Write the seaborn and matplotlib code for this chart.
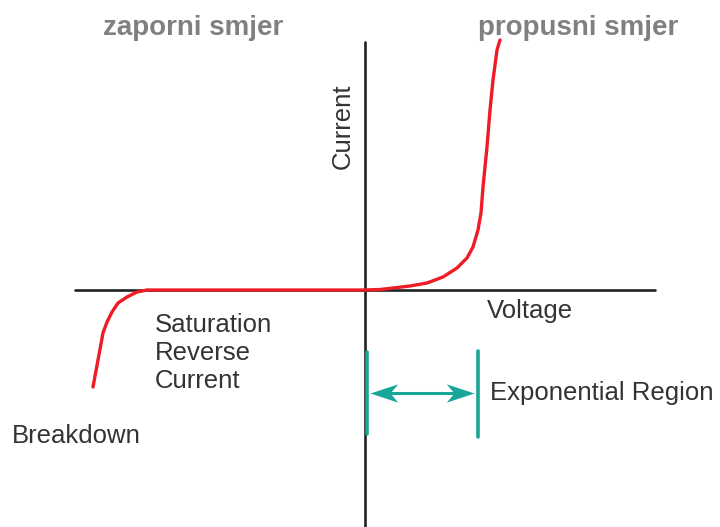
import matplotlib
matplotlib.use("Agg")
import matplotlib.pyplot as plt
import seaborn as sns
import pandas as pd
from matplotlib.path import Path

sns.set_theme(style="white")
plt.rcParams['font.family'] = ['Liberation Sans', 'DejaVu Sans']

# Diode I-V curve (origin at axis crossing, pixel-like units)
voltage = [-272, -267, -262, -258, -253, -247, -238, -228, -218,
           0, 15, 28, 45, 62, 78, 92, 102, 108, 113, 116, 118, 122, 125, 128, 132, 135]
current = [-97, -70, -43, -32, -22, -13, -7, -2, 0,
           0, 0.5, 2, 4, 7, 13, 22, 32, 43, 60, 77, 103, 143, 180, 210, 240, 250]

# Exponential region bounds (voltage)
exp_region = [0, 113]

df = pd.DataFrame({"Voltage": voltage, "Current": current})

fig = plt.figure(figsize=(7.2, 5.27), dpi=100)
ax = fig.add_axes([0, 0, 1, 1])
ax.set_xlim(-365, 355)
ax.set_ylim(-237, 290)
ax.axis("off")

axis_col = "#222222"
ax.plot([-290, 290], [0, 0], color=axis_col, lw=1.9, zorder=1)
ax.plot([0, 0], [-240, 248], color=axis_col, lw=1.9, zorder=1)

sns.lineplot(data=df, x="Voltage", y="Current", sort=False, ax=ax,
             color="#ee1c25", lw=2.4, zorder=3, estimator=None)
ax.lines[-1].set_solid_joinstyle("round")
ax.lines[-1].set_solid_capstyle("round")

teal = "#17a697"
ax.plot([exp_region[0] + 2, exp_region[0] + 2], [-62, -144], color=teal, lw=2.6, solid_capstyle="round", zorder=4)
ax.plot([exp_region[1], exp_region[1]], [-61, -147], color=teal, lw=2.6, solid_capstyle="round", zorder=4)

# arrow shaft + concave heads
ay = -103
x0, x1 = exp_region[0] + 5, exp_region[1] - 4
ax.plot([x0 + 10, x1 - 10], [ay, ay], color=teal, lw=2.2, zorder=4)
head_r = Path([(0, 0), (-1, 0.33), (-0.72, 0), (-1, -0.33), (0, 0)],
              [Path.MOVETO, Path.LINETO, Path.LINETO, Path.LINETO, Path.CLOSEPOLY])
head_l = Path([(0, 0), (1, 0.33), (0.72, 0), (1, -0.33), (0, 0)],
              [Path.MOVETO, Path.LINETO, Path.LINETO, Path.LINETO, Path.CLOSEPOLY])
ax.plot([x1], [ay], marker=head_r, markersize=40, color=teal, markeredgewidth=0, zorder=5)
ax.plot([x0], [ay], marker=head_l, markersize=40, color=teal, markeredgewidth=0, zorder=5)

txt = "#333333"
fs = 18.5
ax.text(125, -103, "Exponential Region", fontsize=fs, color=txt, va="center", ha="left")
ax.text(122, -21, "Voltage", fontsize=fs, color=txt, va="center", ha="left")
ax.text(-22, 164, "Current", fontsize=fs, color=txt, va="center", ha="center", rotation=90)
ax.text(-210, -63, "Saturation\nReverse\nCurrent", fontsize=fs, color=txt, va="center", ha="left", linespacing=1.2)
ax.text(-353, -146, "Breakdown", fontsize=fs, color=txt, va="center", ha="left")

ax.text(-172, 262, "zaporni smjer", fontsize=20, color="#808080", fontweight="bold", va="center", ha="center")
ax.text(213, 262, "propusni smjer", fontsize=20, color="#808080", fontweight="bold", va="center", ha="center")

fig.savefig("out.png", dpi=100)
